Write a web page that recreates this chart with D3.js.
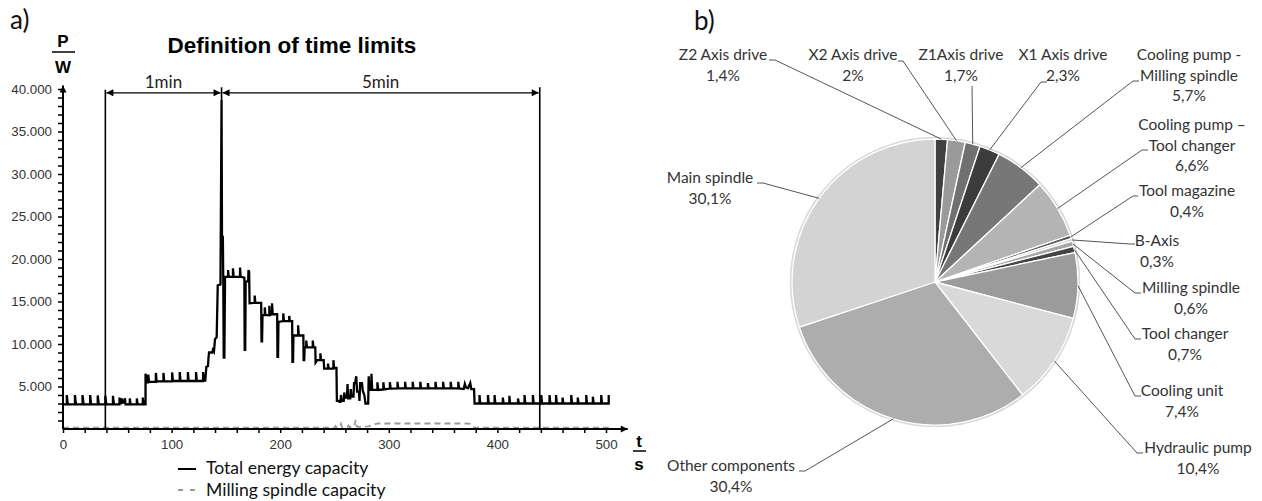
<!DOCTYPE html>
<html><head><meta charset="utf-8">
<script src="https://cdn.jsdelivr.net/npm/d3@7"></script>
<style>body{margin:0;background:#fff}svg{display:block}</style>
</head><body>
<svg id="c" width="1262" height="501"></svg>
<script>
// ---------- DATA (panel a) ----------
const xTickLabels = [0, 100, 200, 300, 400, 500];
const yTickLabels = [5000, 10000, 15000, 20000, 25000, 30000, 35000, 40000];
const timeLimits = [39, 146, 439];
const limitLabels = ["1min", "5min"];
const seriesNames = ["Total energy capacity", "Milling spindle capacity"];

// Total energy capacity [t (s), P (W)]
const totalEnergy = [
 [0,2900],[3.5,2900],[3.5,4000],[4.2,3100],[4.6,2900],
 [11,2900],[11,4000],[11.7,3100],[12.1,2900],
 [18,2900],[18,4000],[18.7,3100],[19.1,2900],
 [25,2900],[25,4000],[25.7,3100],[26.1,2900],
 [32,2900],[32,3950],[32.7,3100],[33.1,2900],
 [39,2900],[39,3900],[39.7,3100],[40.1,2900],
 [46,2900],[46,3900],[46.7,3100],[47.1,2900],
 [52,2900],[52,3700],[52.6,3200],[53.5,3100],[54,3600],[54.6,3100],[56,3100],[57,3600],[57.6,2900],
 [61.5,2900],[61.5,3600],[62.2,2900],
 [68,2900],[68,3600],[68.7,2900],
 [73.5,2900],[73.5,3700],[74.2,2900],[76,2900],
 [76,6500],[77,5700],[77.5,5500],[78.5,5500],[78.5,6400],[79.2,5550],
 [85.5,5550],[85.5,6600],[86.2,5600],
 [92.5,5600],[92.5,6600],[93.2,5600],
 [100.5,5600],[100.5,6650],[101.2,5650],
 [107.5,5650],[107.5,6700],[108.2,5650],
 [115,5650],[115,6700],[115.7,5650],
 [122.5,5650],[122.5,6700],[123.2,5650],
 [129,5650],[129,6700],[129.7,5700],
 [131,5700],[132,7300],[133.5,7400],[134,8400],[134.5,9000],[137.5,9000],[138,9300],[139,9100],[140,10600],[141.5,10800],[142.5,16900],[145,17000],
 [146,38700],[146.4,22600],[147.2,22600],[147.6,17000],[148,8400],[148.6,8400],[149.2,17900],
 [152,17900],[152,18700],[152.6,17900],[156.5,17900],[156.5,18900],[157.1,17900],[163,17900],[163,19000],[163.6,17900],
 [167,17800],[167.3,9300],[167.8,9300],[168.2,17300],[170.5,17400],[170.8,18700],[171.4,18500],[171.8,14800],
 [176.5,14850],[176.5,15700],[177.1,14850],[182.5,14850],[182.8,10300],[183.3,10300],[183.7,13400],
 [185.8,13400],[185.8,14300],[186.4,13400],[190,13400],[190,14500],[190.6,13400],[192.5,13500],[192.5,14800],[193.1,13500],
 [197.2,13500],[197.5,8500],[198,8500],[198.4,12600],
 [202.8,12700],[202.8,13600],[203.4,12700],[208.3,12700],[208.3,13300],[208.9,12700],
 [211,12700],[211.3,7900],[211.8,7900],[212.2,11000],
 [216.5,11000],[216.5,12200],[217.1,11000],[221.3,11000],[221.6,8100],[222.1,8100],[222.5,9600],
 [224,9600],[224,10400],[224.6,9600],[230,9600],[230,10400],[230.6,9600],
 [232.3,9600],[232.6,7800],[233.2,7900],[233.6,8100],
 [237,8100],[237,8900],[237.6,8100],[240,8100],[240.5,7100],[244,7100],[244,7700],[244.6,7100],
 [249,7100],[249,8100],[249.6,7200],[251.8,7200],[252.2,3300],
 [254,3300],[254.5,3200],[255.5,3200],[256,4000],[256.6,3300],[258.5,3300],[259,4300],[259.6,3700],
 [261.5,3700],[262,5300],[262.6,3600],[264.5,3600],[265,4700],[265.6,3800],[267.5,3800],[268,5400],
 [269,5400],[270,6200],[270.8,4400],[272.5,4400],[273,3300],[273.6,5400],[275.3,5400],[276,4500],
 [277.5,4000],[278.5,3000],[281,3000],[281.5,6200],[282.3,4600],
 [284,4600],[284,6500],[284.7,4600],[289.5,4600],[289.5,5500],[290.2,4600],
 [295,4650],[295,5500],[295.7,4650],[301,4750],[301,5500],[301.7,4750],
 [308,4780],[308,5550],[308.7,4780],[315,4780],[315,5550],[315.7,4780],
 [322,4780],[322,5550],[322.7,4780],[329,4780],[329,5550],[329.7,4780],
 [336,4780],[336,5400],[336.7,4780],[343,4780],[343,5550],[343.7,4780],
 [350,4780],[350,5550],[350.7,4780],[357,4780],[357,5550],[357.7,4780],
 [364,4780],[364,5550],[364.7,4780],[369,4700],[370,5300],[371,4900],[373,4800],[375,5400],[376,4700],[378.5,4700],
 [379,3000],
 [383.5,3000],[383.5,4000],[384.2,3000],
 [391.3,3000],[391.3,4000],[392,3000],
 [397.4,3000],[397.4,4000],[398.1,3000],
 [405,3000],[405,3700],[405.7,3000],
 [411,3000],[411,3900],[411.7,3000],
 [419,3000],[419,3600],[419.7,3000],
 [425,3000],[425,4000],[425.7,3000],
 [432.7,3000],[432.7,4000],[433.4,3000],
 [440.4,3000],[440.4,4000],[441.1,3000],
 [448,3000],[448,4000],[448.7,3000],
 [454,3000],[454,4000],[454.7,3000],
 [460,3000],[460,3700],[460.7,3000],
 [468,3000],[468,4000],[468.7,3000],
 [474,3000],[474,3700],[474.7,3000],
 [481.8,3000],[481.8,4000],[482.5,3000],
 [487.9,3000],[487.9,3800],[488.6,3000],
 [495.6,3000],[495.6,4000],[496.3,3000],
 [502.5,3000],[502.5,4000]
];

// Milling spindle capacity [t (s), P (W)]
const millingSpindle = [
 [0,150],[250,150],[251,350],[252,200],[255,250],[256,600],[257,200],[262,250],[263,400],[264,200],
 [268,300],[269.5,1050],[270.5,300],[272,250],[281,300],[286,500],[290,650],[330,650],[370,650],
 [375,600],[377,400],[379,150],[503,150]
];

// ---------- DATA (panel b) ----------
const components = ["Z2 Axis drive","X2 Axis drive","Z1Axis drive","X1 Axis drive",
 "Cooling pump - Milling spindle","Cooling pump – Tool changer","Tool magazine","B-Axis",
 "Milling spindle","Tool changer","Cooling unit","Hydraulic pump","Other components","Main spindle"];
const shares = [1.4, 2, 1.7, 2.3, 5.7, 6.6, 0.4, 0.3, 0.6, 0.7, 7.4, 10.4, 30.4, 30.1];
const shareLabels = ["1,4%","2%","1,7%","2,3%","5,7%","6,6%","0,4%","0,3%","0,6%","0,7%","7,4%","10,4%","30,4%","30,1%"];

// ---------- STYLE / LAYOUT ----------
const sliceColors = ["#404040","#9a9a9a","#707070","#3c3c3c","#777777","#b4b4b4","#5a5a5a","#cfcfcf",
 "#a8a8a8","#444444","#9b9b9b","#d9d9d9","#adadad","#d3d3d3"];
// label lines, text centre x, first baseline y, leader joint & stub end
const labelLayout = [
 {lines:["Z2 Axis drive"], cx:723, by:60, j:[775,60], e:[769,60]},
 {lines:["X2 Axis drive"], cx:853, by:60, j:[903,61], e:[898,61]},
 {lines:["Z1Axis drive"], cx:961, by:60, j:[972,86], e:[972,86]},
 {lines:["X1 Axis drive"], cx:1063, by:60, j:[1041,82], e:[1047,82]},
 {lines:["Cooling pump -","Milling spindle"], cx:1189, by:60, j:[1133,81], e:[1139,81]},
 {lines:["Cooling pump –","Tool changer"], cx:1192, by:130, j:[1142,150], e:[1148,150]},
 {lines:["Tool magazine"], cx:1187, by:196, j:[1133,196], e:[1138,196]},
 {lines:["B-Axis"], cx:1157, by:246, j:[1130,244], e:[1135,244]},
 {lines:["Milling spindle"], cx:1191, by:293, j:[1135,293], e:[1141,293]},
 {lines:["Tool changer"], cx:1185, by:339, j:[1135,339], e:[1141,339]},
 {lines:["Cooling unit"], cx:1182, by:396, j:[1135,396], e:[1141,396]},
 {lines:["Hydraulic pump"], cx:1198, by:453, j:[1137,453], e:[1143,453]},
 {lines:["Other components"], cx:731, by:471, j:[805,471], e:[799,471]},
 {lines:["Main spindle"], cx:710, by:183, j:[763,183], e:[757,183]}
];

const svg = d3.select("#c");
const defs = svg.append("defs");
defs.append("marker").attr("id","arr").attr("viewBox","0 0 10 10").attr("refX",10).attr("refY",5)
  .attr("markerUnits","userSpaceOnUse").attr("markerWidth",9).attr("markerHeight",7)
  .attr("orient","auto-start-reverse")
  .append("path").attr("d","M0,0L10,5L0,10z").attr("fill","#000");

const LAT = "Lato, 'Open Sans', sans-serif";
const ARI = "'Liberation Sans', Arial, sans-serif";

// panel labels
svg.append("text").attr("x",10).attr("y",29).attr("font-family",LAT).attr("font-size",26).attr("fill","#111").text("a)");
svg.append("text").attr("x",694).attr("y",30).attr("font-family",LAT).attr("font-size",26).attr("fill","#111").text("b)");

// ---------- PANEL A ----------
const x = d3.scaleLinear().domain([0,500]).range([63,606]);
const y = d3.scaleLinear().domain([0,40000]).range([429,89]);
const fmt = d3.formatLocale({decimal:",",thousands:".",grouping:[3],currency:["",""]}).format(",");

const gA = svg.append("g");
svg.append("text").attr("x",292).attr("y",53).attr("text-anchor","middle").attr("font-family",ARI)
  .attr("font-weight","bold").attr("font-size",22.5).attr("fill","#000").text("Definition of time limits");

// axis unit labels
svg.append("text").attr("x",63).attr("y",47).attr("text-anchor","middle").attr("font-family",ARI).attr("font-weight","bold").attr("font-size",17).text("P");
svg.append("line").attr("x1",52).attr("x2",75).attr("y1",52).attr("y2",52).attr("stroke","#000").attr("stroke-width",1.5);
svg.append("text").attr("x",63).attr("y",73).attr("text-anchor","middle").attr("font-family",ARI).attr("font-weight","bold").attr("font-size",17).text("W");
svg.append("text").attr("x",639).attr("y",447).attr("text-anchor","middle").attr("font-family",ARI).attr("font-weight","bold").attr("font-size",17).text("t");
svg.append("line").attr("x1",633).attr("x2",646).attr("y1",451).attr("y2",451).attr("stroke","#000").attr("stroke-width",1.5);
svg.append("text").attr("x",639).attr("y",470).attr("text-anchor","middle").attr("font-family",ARI).attr("font-weight","bold").attr("font-size",17).text("s");

// minor ticks
gA.append("g").attr("transform",`translate(${x(0)},0)`)
  .call(d3.axisLeft(y).tickValues(d3.range(1000,40001,1000)).tickSize(5).tickFormat(""))
  .call(g=>g.select(".domain").remove()).selectAll("line").attr("stroke","#000").attr("stroke-width",1.5);
gA.append("g").attr("transform",`translate(0,${y(0)})`)
  .call(d3.axisBottom(x).tickValues(d3.range(0,501,20)).tickSize(4).tickFormat(""))
  .call(g=>g.select(".domain").remove()).selectAll("line").attr("stroke","#000").attr("stroke-width",1.5);
// labels
const yAx = gA.append("g").attr("transform",`translate(${x(0)},0)`)
  .call(d3.axisLeft(y).tickValues(yTickLabels).tickSize(0).tickPadding(11).tickFormat(fmt));
yAx.select(".domain").remove();
yAx.selectAll("text").attr("font-family",ARI).attr("font-size",13.3).attr("fill","#333");
const xAx = gA.append("g").attr("transform",`translate(0,${y(0)})`)
  .call(d3.axisBottom(x).tickValues(xTickLabels).tickSize(0).tickPadding(11).tickFormat(d3.format("d")));
xAx.select(".domain").remove();
xAx.selectAll("text").attr("font-family",ARI).attr("font-size",13.3).attr("fill","#333");

// milling spindle (behind)
const lineGen = d3.line().x(d=>x(d[0])).y(d=>y(d[1]));
gA.append("path").datum(millingSpindle).attr("d",lineGen).attr("fill","none")
  .attr("stroke","#9a9a9a").attr("stroke-width",1.8).attr("stroke-dasharray","6,4");

// axes lines with arrows
gA.append("line").attr("x1",x(0)).attr("x2",x(0)).attr("y1",y(0)).attr("y2",y(40400))
  .attr("stroke","#000").attr("stroke-width",2).attr("marker-end","url(#arr)");
gA.append("line").attr("x1",x(0)).attr("x2",x(520)).attr("y1",y(0)).attr("y2",y(0))
  .attr("stroke","#000").attr("stroke-width",2).attr("marker-end","url(#arr)");

// time limits
gA.append("line").attr("x1",x(timeLimits[0])).attr("x2",x(timeLimits[0])).attr("y1",y(39900)).attr("y2",y(0)).attr("stroke","#000").attr("stroke-width",1.6);
gA.append("line").attr("x1",x(timeLimits[1])).attr("x2",x(timeLimits[1])).attr("y1",y(40200)).attr("y2",y(38700)).attr("stroke","#000").attr("stroke-width",1.6);
gA.append("line").attr("x1",x(timeLimits[2])).attr("x2",x(timeLimits[2])).attr("y1",y(40200)).attr("y2",y(0)).attr("stroke","#000").attr("stroke-width",1.6);
const dimY = y(39550);
limitLabels.forEach((lab,i)=>{
  const a = x(timeLimits[i]), b = x(timeLimits[i+1]);
  gA.append("line").attr("x1",a+1).attr("x2",b-1).attr("y1",dimY).attr("y2",dimY)
    .attr("stroke","#000").attr("stroke-width",1.4).attr("marker-start","url(#arr)").attr("marker-end","url(#arr)");
  gA.append("text").attr("x",(a+b)/2).attr("y",dimY-5).attr("text-anchor","middle")
    .attr("font-family",LAT).attr("font-size",17).attr("fill","#222").text(lab);
});

// total energy
gA.append("path").datum(totalEnergy).attr("d",lineGen).attr("fill","none")
  .attr("stroke","#000").attr("stroke-width",2.3).attr("stroke-linejoin","miter");

// legend
const leg = svg.append("g");
leg.append("line").attr("x1",178).attr("x2",196).attr("y1",469).attr("y2",469).attr("stroke","#000").attr("stroke-width",2);
leg.append("line").attr("x1",178).attr("x2",196).attr("y1",490).attr("y2",490).attr("stroke","#9a9a9a").attr("stroke-width",1.8).attr("stroke-dasharray","5,7");
leg.append("text").attr("x",206).attr("y",474).attr("font-family",LAT).attr("font-size",17.6).attr("fill","#111").text(seriesNames[0]);
leg.append("text").attr("x",206).attr("y",496).attr("font-family",LAT).attr("font-size",17.6).attr("fill","#111").text(seriesNames[1]);

// ---------- PANEL B ----------
const cx = 935, cy = 282, R = 143;
const gB = svg.append("g").attr("transform",`translate(${cx},${cy})`);
gB.append("circle").attr("r",R+1).attr("fill","none").attr("stroke","#d8d8d8").attr("stroke-width",2.5);
const arcs = d3.pie().sort(null).value(d=>d)(shares);
const arcGen = d3.arc().innerRadius(0).outerRadius(R);
gB.selectAll("path.s").data(arcs).join("path").attr("class","s").attr("d",arcGen)
  .attr("fill",(d,i)=>sliceColors[i]).attr("stroke","#fff").attr("stroke-width",1.3).attr("stroke-linejoin","round");

arcs.forEach((d,i)=>{
  const L = labelLayout[i];
  const m = (d.startAngle+d.endAngle)/2;
  const px = cx + R*Math.sin(m), py = cy - R*Math.cos(m);
  svg.append("polyline").attr("points",`${px},${py} ${L.j[0]},${L.j[1]} ${L.e[0]},${L.e[1]}`)
    .attr("fill","none").attr("stroke","#555").attr("stroke-width",1);
  const t = svg.append("text").attr("font-family",LAT).attr("font-size",15.5).attr("fill","#333").attr("text-anchor","middle");
  const lines = L.lines.concat([shareLabels[i]]);
  lines.forEach((s,k)=>{
    t.append("tspan").attr("x",L.cx).attr("y",L.by + k*20.5).text(s);
  });
});
</script>
</body></html>
